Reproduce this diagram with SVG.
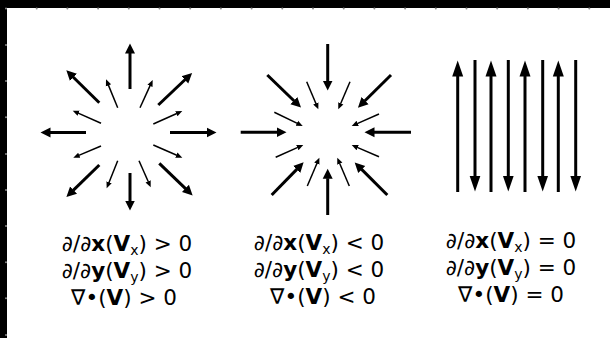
<svg xmlns="http://www.w3.org/2000/svg" width="610" height="338" viewBox="0 0 610 338">
  <defs>
    <style>
      .big { stroke: #000; stroke-width: 3; fill: none; marker-end: url(#headBig); }
      .small { stroke: #000; stroke-width: 1.5; fill: none; marker-end: url(#headSmall); }
      .par { stroke: #000; stroke-width: 3; fill: none; marker-end: url(#headPar); }
      .eq { font-family: "DejaVu Sans", sans-serif; font-size: 21.5px; fill: #000; text-anchor: middle; }
      .b { font-weight: bold; }
      .sub { font-size: 14px; }
      .dot { fill: #8a8a8a; }
    </style>
    <marker id="headBig" markerUnits="userSpaceOnUse" viewBox="0 -6 11 12" markerWidth="11" markerHeight="12" refX="0.5" refY="0" orient="auto">
      <path d="M0,-5 L10,0 L0,5 Z" fill="#000"/>
    </marker>
    <marker id="headSmall" markerUnits="userSpaceOnUse" viewBox="0 -4 8 8" markerWidth="8" markerHeight="8" refX="0.5" refY="0" orient="auto">
      <path d="M0,-2.8 L6.5,0 L0,2.8 Z" fill="#000"/>
    </marker>
    <marker id="headPar" markerUnits="userSpaceOnUse" viewBox="0 -6 17 12" markerWidth="17" markerHeight="12" refX="0.5" refY="0" orient="auto">
      <path d="M0,-5.5 L16,0 L0,5.5 Z" fill="#000"/>
    </marker>
  </defs>

  <!-- page and frame -->
  <rect x="0" y="0" width="610" height="338" fill="#fff"/>
  <rect x="0" y="0" width="610" height="8" fill="#000"/>
  <rect x="0" y="0" width="7" height="338" fill="#000"/>
  <g id="frame-dots">
    <circle class="dot" cx="6" cy="8.5" r="1"/>
    <circle class="dot" cx="36.7" cy="8.5" r="1"/>
    <circle class="dot" cx="67.4" cy="8.5" r="1"/>
    <circle class="dot" cx="98.1" cy="8.5" r="1"/>
    <circle class="dot" cx="128.8" cy="8.5" r="1"/>
    <circle class="dot" cx="159.5" cy="8.5" r="1"/>
    <circle class="dot" cx="190.2" cy="8.5" r="1"/>
    <circle class="dot" cx="220.9" cy="8.5" r="1"/>
    <circle class="dot" cx="251.6" cy="8.5" r="1"/>
    <circle class="dot" cx="282.3" cy="8.5" r="1"/>
    <circle class="dot" cx="313" cy="8.5" r="1"/>
    <circle class="dot" cx="343.7" cy="8.5" r="1"/>
    <circle class="dot" cx="374.4" cy="8.5" r="1"/>
    <circle class="dot" cx="405.1" cy="8.5" r="1"/>
    <circle class="dot" cx="435.8" cy="8.5" r="1"/>
    <circle class="dot" cx="466.5" cy="8.5" r="1"/>
    <circle class="dot" cx="497.2" cy="8.5" r="1"/>
    <circle class="dot" cx="527.9" cy="8.5" r="1"/>
    <circle class="dot" cx="558.6" cy="8.5" r="1"/>
    <circle class="dot" cx="589.3" cy="8.5" r="1"/>
    <circle class="dot" cx="6" cy="45" r="1"/>
    <circle class="dot" cx="6" cy="81" r="1"/>
    <circle class="dot" cx="6" cy="117.3" r="1"/>
    <circle class="dot" cx="6" cy="154" r="1"/>
    <circle class="dot" cx="6" cy="190" r="1"/>
    <circle class="dot" cx="6" cy="226" r="1"/>
    <circle class="dot" cx="6" cy="262.3" r="1"/>
    <circle class="dot" cx="6" cy="298.3" r="1"/>
    <circle class="dot" cx="6" cy="335" r="1"/>
  </g>

  <g id="connectors">
    <!-- source: outward field -->
    <g id="source-arrows">
      <path class="big" d="M130,89 L130,53"/>
      <path class="big" d="M130,173 L130,201"/>
      <path class="big" d="M86,132.5 L50,132.5"/>
      <path class="big" d="M170,132.5 L207,132.5"/>
      <path class="big" d="M99.3,102.7 L73.1,77"/>
      <path class="big" d="M158.3,105 L185.2,79.5"/>
      <path class="big" d="M99.3,165 L73.2,190.4"/>
      <path class="big" d="M159.3,163.3 L185.8,188.8"/>
      <path class="small" d="M117.7,107.7 L108.3,84.9"/>
      <path class="small" d="M140,107.7 L150.2,85.4"/>
      <path class="small" d="M101,123.3 L78.2,113.1"/>
      <path class="small" d="M153.3,124 L176.8,113.5"/>
      <path class="small" d="M101,146 L78.8,155.4"/>
      <path class="small" d="M153.3,145 L176.8,155.3"/>
      <path class="small" d="M117.7,160.7 L108.9,182.7"/>
      <path class="small" d="M139,160.7 L148.3,181.8"/>
    </g>
    <!-- sink: inward field -->
    <g id="sink-arrows">
      <path class="big" d="M327.7,44 L327.7,81"/>
      <path class="big" d="M327.7,215 L327.7,178.3"/>
      <path class="big" d="M240.7,132.3 L277,132.3"/>
      <path class="big" d="M411,132.3 L374,132.3"/>
      <path class="big" d="M267.3,75 L294.2,101"/>
      <path class="big" d="M391,75 L364.7,101"/>
      <path class="big" d="M271.7,195 L297,169.1"/>
      <path class="big" d="M387.3,195 L361.4,169.1"/>
      <path class="small" d="M306.7,81.7 L316,103.8"/>
      <path class="small" d="M350,81.7 L340.6,103.8"/>
      <path class="small" d="M274.3,112.3 L297.3,123.4"/>
      <path class="small" d="M379,114 L357.2,123.6"/>
      <path class="small" d="M275.7,157.3 L297.8,147.4"/>
      <path class="small" d="M379,156.7 L357.2,147.4"/>
      <path class="small" d="M307.3,186 L317,163.2"/>
      <path class="small" d="M349.3,186 L339.6,163.2"/>
    </g>
    <!-- divergence-free: alternating parallel field -->
    <g id="parallel-arrows">
      <path class="par" d="M457.7,192 L457.7,76"/>
      <path class="par" d="M475,60 L475,176"/>
      <path class="par" d="M491,192 L491,76"/>
      <path class="par" d="M508.3,60 L508.3,176"/>
      <path class="par" d="M525,192 L525,76"/>
      <path class="par" d="M542.7,60 L542.7,176"/>
      <path class="par" d="M558.3,192 L558.3,76"/>
      <path class="par" d="M575.7,60 L575.7,176"/>
    </g>
  </g>

  <g id="label-source">
    <text class="eq" x="127" y="251">∂/∂<tspan class="b">x</tspan>(<tspan class="b">V</tspan><tspan class="sub" dy="4">x</tspan><tspan dy="-4">) &gt; 0</tspan></text>
    <text class="eq" x="127" y="278">∂/∂<tspan class="b">y</tspan>(<tspan class="b">V</tspan><tspan class="sub" dy="4">y</tspan><tspan dy="-4">) &gt; 0</tspan></text>
    <text class="eq" x="124" y="305">∇•(<tspan class="b">V</tspan>) &gt; 0</text>
  </g>
  <g id="label-sink">
    <text class="eq" x="319" y="250">∂/∂<tspan class="b">x</tspan>(<tspan class="b">V</tspan><tspan class="sub" dy="4">x</tspan><tspan dy="-4">) &lt; 0</tspan></text>
    <text class="eq" x="319" y="277">∂/∂<tspan class="b">y</tspan>(<tspan class="b">V</tspan><tspan class="sub" dy="4">y</tspan><tspan dy="-4">) &lt; 0</tspan></text>
    <text class="eq" x="323" y="304">∇•(<tspan class="b">V</tspan>) &lt; 0</text>
  </g>
  <g id="label-parallel">
    <text class="eq" x="511" y="248">∂/∂<tspan class="b">x</tspan>(<tspan class="b">V</tspan><tspan class="sub" dy="4">x</tspan><tspan dy="-4">) = 0</tspan></text>
    <text class="eq" x="511" y="275">∂/∂<tspan class="b">y</tspan>(<tspan class="b">V</tspan><tspan class="sub" dy="4">y</tspan><tspan dy="-4">) = 0</tspan></text>
    <text class="eq" x="511" y="302">∇•(<tspan class="b">V</tspan>) = 0</text>
  </g>
</svg>
